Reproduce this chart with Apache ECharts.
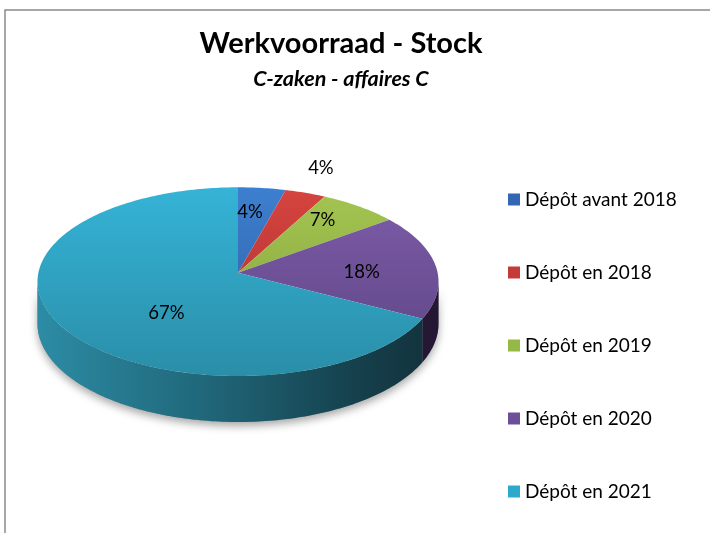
<!DOCTYPE html>
<html>
<head>
<meta charset="utf-8">
<script src="https://cdn.jsdelivr.net/npm/echarts@6/dist/echarts.min.js"></script>
<style>
  html, body { margin: 0; padding: 0; background: #fff; }
  #chart { width: 710px; height: 533px; }
</style>
</head>
<body>
<div id="chart"></div>
<script>
// data
const categories = ['Dépôt avant 2018', 'Dépôt en 2018', 'Dépôt en 2019', 'Dépôt en 2020', 'Dépôt en 2021'];
const values = [4.2, 3.6, 7.0, 18.0, 67.2];

// colours: top face (light -> dark), wall (left -> right), legend
const topColors = [['#3d7fd0', '#2c5c9c'], ['#d6443f', '#a62f2e'], ['#a5c552', '#7e9e39'], ['#7d5ca9', '#5d4483'], ['#35b3d6', '#2a8ea8']];
const wallColors = [['#244a7a', '#1a3558'], ['#7a2322', '#5a1918'], ['#5d7424', '#435419'], ['#3a2a52', '#241733'], ['#2b8aa2', '#12313b']];
const legendColors = ['#3566b4', '#c43a38', '#94b946', '#6c4f98', '#2fa9cb'];
// label placement: [fraction along slice, radius]
const labelPlace = [[0.35, 0.7], [0.4, 1.34], [0.36, 0.74], [0.56, 0.62], [0.42, 0.54]];

const total = values.reduce((a, b) => a + b, 0);
const starts = [];
let acc = 0;
values.forEach(v => { starts.push(acc); acc += v; });

// perspective 3d pie projection
const cx = 238, cy = 272.7, A = 199.6, B = 93.5, k = 0.095, H = 41.6;
function proj(t, r) {
  const u = r * Math.sin(t), v = -r * Math.cos(t);
  const s = 1 / (1 - k * v);
  return [cx + A * u * s, cy + B * v * s, H * s];
}
function arc(t0, t1) {
  const pts = [];
  const n = Math.max(2, Math.ceil((t1 - t0) / (Math.PI / 180)));
  for (let i = 0; i <= n; i++) pts.push(proj(t0 + (t1 - t0) * i / n, 1));
  return pts;
}
const wallMin = Math.PI / 2 + Math.asin(k), wallMax = 3 * Math.PI / 2 - Math.asin(k);
const yTop = proj(0, 1)[1], yBot = proj(Math.PI, 1)[1];
const xLeft = cx - A / Math.sqrt(1 - k * k), xRight = cx + A / Math.sqrt(1 - k * k);

function makeRender(idx) {
  return function (params, api) {
    const t0 = starts[idx] / total * 2 * Math.PI;
    const t1 = (starts[idx] + api.value(0)) / total * 2 * Math.PI;
    const children = [];
    // side wall
    const w0 = Math.max(t0, wallMin), w1 = Math.min(t1, wallMax);
    if (w1 > w0) {
      const top = arc(w0, w1);
      const pts = top.map(p => [p[0], p[1]]);
      for (let i = top.length - 1; i >= 0; i--) pts.push([top[i][0], top[i][1] + top[i][2]]);
      const wallFill = {
        type: 'linear', x: xLeft, y: 0, x2: xRight, y2: 0, global: true,
        colorStops: idx === 4
          ? [{ offset: 0, color: '#2c8ca5' }, { offset: 0.45, color: '#1f6476' }, { offset: 0.8, color: '#15404c' }, { offset: 1, color: '#12313b' }]
          : [{ offset: 0, color: wallColors[idx][0] }, { offset: 1, color: wallColors[idx][1] }]
      };
      children.push({
        type: 'polygon', z2: 0, shape: { points: pts },
        style: { fill: '#888', shadowBlur: 8, shadowOffsetY: 4, shadowColor: 'rgba(0,0,0,0.35)' }
      });
      children.push({ type: 'polygon', z2: 1, shape: { points: pts }, style: { fill: wallFill } });
    }
    // top face
    const topPts = [[cx, cy]].concat(arc(t0, t1).map(p => [p[0], p[1]]));
    children.push({
      type: 'polygon', z2: 2, shape: { points: topPts },
      style: {
        fill: {
          type: 'linear', x: 0, y: yTop, x2: 0, y2: yBot, global: true,
          colorStops: [{ offset: 0, color: topColors[idx][0] }, { offset: 1, color: topColors[idx][1] }]
        }
      }
    });
    // percentage label
    const lp = labelPlace[idx];
    const lpos = proj(t0 + (t1 - t0) * lp[0], lp[1]);
    children.push({
      type: 'text', z2: 3,
      style: {
        text: Math.round(api.value(0) / total * 100) + '%',
        x: lpos[0], y: lpos[1], align: 'center', verticalAlign: 'middle',
        fill: '#000', fontSize: 18.5, fontFamily: 'Lato'
      }
    });
    return { type: 'group', children: children };
  };
}

const series = categories.map((name, i) => ({
  name: name,
  type: 'custom',
  coordinateSystem: 'none',
  silent: true,
  itemStyle: { color: legendColors[i] },
  renderItem: makeRender(i),
  data: [[values[i]]]
}));

const chart = echarts.init(document.getElementById('chart'));
chart.setOption({
  animation: false,
  backgroundColor: '#fff',
  title: {
    text: 'Werkvoorraad - Stock',
    subtext: 'C-zaken - affaires C',
    left: 336, top: 24, textAlign: 'center', itemGap: 10,
    textStyle: { fontFamily: 'Lato', fontWeight: 'bold', fontSize: 29, color: '#000' },
    subtextStyle: { fontFamily: 'Lato', fontWeight: 'bold', fontStyle: 'italic', fontSize: 21.5, color: '#000' }
  },
  legend: {
    orient: 'vertical', left: 503, top: 185, itemGap: 54,
    itemWidth: 12, itemHeight: 12, icon: 'rect', selectedMode: false,
    textStyle: { fontFamily: 'Lato', fontSize: 19, color: '#000', lineHeight: 17 },
    data: categories
  },
  graphic: [{
    type: 'rect', silent: true,
    shape: { x: 5, y: 10, width: 800, height: 600 },
    style: { fill: 'none', stroke: '#8a8a8a', lineWidth: 1.5 }
  }],
  series: series
});
</script>
</body>
</html>
